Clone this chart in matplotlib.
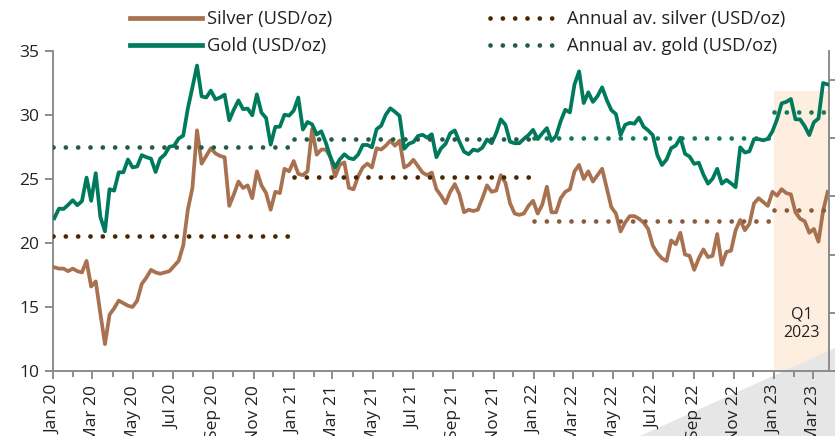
import pandas as pd
import matplotlib.pyplot as plt
import matplotlib.dates as mdates
from matplotlib.lines import Line2D
from matplotlib.patches import Polygon

plt.rcParams["font.family"] = ["Open Sans", "DejaVu Sans"]

# weekly closes (Fridays)
silver_2020 = [18.1, 18.0, 18.0, 17.8, 18.0,
               17.8, 17.7, 18.6, 16.6,
               17.0, 14.5, 12.1, 14.4,
               14.9, 15.5, 15.3, 15.1,
               15.0, 15.5, 16.8, 17.3, 17.9,
               17.7, 17.6, 17.7, 17.8,
               18.2, 18.6, 19.8, 22.6, 24.3,
               28.8, 26.2, 26.8, 27.4,
               27.0, 26.8, 26.7, 22.9,
               23.8, 24.8, 24.3, 24.5, 23.5,
               25.6, 24.5, 23.9, 22.6,
               24.0, 23.9, 25.8, 25.6]
silver_2021 = [26.4, 25.4, 25.3, 25.6, 28.9,
               26.9, 27.3, 27.3, 26.7,
               25.2, 26.1, 26.3, 24.3,
               24.2, 25.2, 25.9, 26.2, 25.9,
               27.4, 27.3, 27.6, 28.0,
               27.6, 28.0, 25.9, 26.1,
               26.5, 26.0, 25.5, 25.3, 25.5,
               24.2, 23.7, 23.1, 24.0,
               24.6, 23.8, 22.4, 22.6,
               22.5, 22.6, 23.5, 24.5, 24.0,
               24.1, 25.3, 24.7, 23.1,
               22.3, 22.2, 22.3, 22.9, 23.3]
silver_2022 = [22.3, 23.0, 24.4, 22.4,
               22.4, 23.5, 24.0, 24.2,
               25.6, 26.1, 25.0, 25.6,
               24.8, 25.3, 25.8, 24.3, 22.8,
               22.3, 20.9, 21.6, 22.1,
               22.1, 21.9, 21.6, 21.1,
               19.8, 19.2, 18.8, 18.6, 20.2,
               19.9, 20.8, 19.1, 19.0,
               17.9, 18.8, 19.5, 18.9, 19.0,
               20.7, 18.3, 19.3, 19.4,
               21.0, 21.8, 21.0, 21.5,
               23.1, 23.5, 23.2, 22.9, 24.0]
silver_2023 = [23.7, 24.2, 23.9, 23.8,
               22.4, 21.9, 21.7, 20.8,
               21.1, 20.1, 22.5, 24.0]

gold_2020 = [1525, 1558, 1557, 1571, 1587,
             1570, 1584, 1665, 1585,
             1680, 1530, 1480, 1625,
             1620, 1683, 1683, 1727,
             1700, 1703, 1742, 1735, 1730,
             1684, 1730, 1744, 1771,
             1774, 1799, 1809, 1902, 1975,
             2050, 1944, 1940, 1964,
             1934, 1940, 1950, 1862,
             1899, 1930, 1900, 1902, 1879,
             1951, 1888, 1870, 1778,
             1839, 1840, 1881, 1878]
gold_2021 = [1895, 1940, 1830, 1856, 1848,
             1813, 1824, 1784, 1734,
             1700, 1727, 1745, 1732,
             1728, 1744, 1777, 1777, 1769,
             1831, 1843, 1881, 1903,
             1891, 1877, 1764, 1781,
             1787, 1808, 1812, 1802, 1814,
             1735, 1765, 1781, 1817,
             1827, 1788, 1754, 1745,
             1761, 1757, 1768, 1796, 1783,
             1818, 1865, 1846, 1788,
             1783, 1783, 1798, 1811, 1829]
gold_2022 = [1797, 1817, 1835, 1791,
             1808, 1859, 1898, 1889,
             1985, 2030, 1921, 1958,
             1925, 1945, 1975, 1932, 1897,
             1883, 1811, 1846, 1853,
             1850, 1871, 1840, 1827,
             1811, 1742, 1708, 1727, 1766,
             1775, 1802, 1747, 1737,
             1712, 1716, 1675, 1644, 1661,
             1695, 1644, 1657, 1645,
             1632, 1769, 1751, 1755,
             1797, 1797, 1793, 1798, 1824]
gold_2023 = [1865, 1920, 1925, 1935,
             1865, 1865, 1842, 1811,
             1855, 1868, 1990, 1985]

years = ["2020", "2021", "2022", "2023"]
year_starts = ["2020-01-03", "2021-01-01", "2022-01-07", "2023-01-06"]
avg_silver = [20.55, 25.15, 21.75, 22.6]
avg_gold = [1770, 1799, 1800, 1890]

silver = pd.concat([
    pd.Series(v, index=pd.date_range(s, periods=len(v), freq="W-FRI"))
    for s, v in zip(year_starts, [silver_2020, silver_2021, silver_2022, silver_2023])
])
gold = pd.concat([
    pd.Series(v, index=pd.date_range(s, periods=len(v), freq="W-FRI"))
    for s, v in zip(year_starts, [gold_2020, gold_2021, gold_2022, gold_2023])
])

c_silver = "#a87150"
c_gold = "#007a5c"
dots_silver = ["#4a2600", "#4a2600", "#8c5a3c", "#8c5a3c"]
dots_gold = ["#245b46", "#245b46", "#127a5c", "#127a5c"]
dot_style = (0, (0.01, 2.6))
x_end = pd.Timestamp("2023-03-26")

fig = plt.figure(figsize=(8.35, 4.36), dpi=100)
ax = fig.add_axes([53 / 835, 65 / 436, 776 / 835, 320 / 436])
ax.set_facecolor("none")
ax2 = ax.twinx()

# Q1 2023 shading and decorative corner
ax.axvspan(pd.Timestamp("2023-01-01"), x_end, ymax=0.875, color="#fdeee0", zorder=0.5, lw=0)
tri = Polygon([(640 / 835, 0), (1, 88 / 436), (1, 0)], closed=True, transform=fig.transFigure,
              facecolor="#e6e6e6", edgecolor="none", clip_on=False, zorder=1.5)
ax.add_patch(tri)
ax.text(pd.Timestamp("2023-02-12"), 13.7, "Q1\n2023", ha="center", va="center",
        fontsize=11.5, color="#222222", linespacing=1.15)

ax.plot(silver.index, silver.values, color=c_silver, lw=2.7, zorder=3, solid_joinstyle="round")
ax2.plot(gold.index, gold.values, color=c_gold, lw=2.7, zorder=3, solid_joinstyle="round")

for i, y in enumerate(years):
    start = pd.Timestamp(f"{y}-01-01")
    end = min(pd.Timestamp(f"{int(y) + 1}-01-01"), x_end)
    ax.plot([start, end], [avg_silver[i]] * 2, color=dots_silver[i], lw=3.4,
            linestyle=dot_style, dash_capstyle="round", zorder=4)
    ax2.plot([start, end], [avg_gold[i]] * 2, color=dots_gold[i], lw=3.4,
             linestyle=dot_style, dash_capstyle="round", zorder=4)

ax.set_xlim(pd.Timestamp("2020-01-01"), x_end)
ax.set_ylim(10, 35)
ax.set_yticks([10, 15, 20, 25, 30, 35])
ax2.set_ylim(1000, 2100)
ax2.set_yticks([1000, 1200, 1400, 1600, 1800, 2000])

ax.xaxis.set_major_locator(mdates.MonthLocator(bymonth=[1, 3, 5, 7, 9, 11]))
ax.xaxis.set_minor_locator(mdates.MonthLocator())
ax.xaxis.set_major_formatter(mdates.DateFormatter("%b %y"))
plt.setp(ax.get_xticklabels(), rotation=90)

grey = "#8c8c8c"
for a in (ax, ax2):
    a.spines["top"].set_visible(False)
    for s in a.spines.values():
        s.set_color(grey)
        s.set_linewidth(1.4)
ax.spines["right"].set_visible(False)
ax2.spines["left"].set_visible(False)
ax2.spines["bottom"].set_visible(False)
ax.tick_params(axis="both", which="major", length=6, width=1.4, color=grey,
               labelsize=12.5, labelcolor="#222222", pad=4)
ax.tick_params(axis="x", which="minor", length=4, width=1.4, color=grey)
ax2.tick_params(axis="y", length=6, width=1.4, color=grey, labelright=False)

h_silver = Line2D([], [], color=c_silver, lw=3.4)
h_gold = Line2D([], [], color=c_gold, lw=3.4)
h_avs = Line2D([], [], color="#4a2600", lw=3.4, linestyle=dot_style, dash_capstyle="round")
h_avg = Line2D([], [], color="#245b46", lw=3.4, linestyle=dot_style, dash_capstyle="round")

leg_kw = dict(loc="upper left", frameon=False, fontsize=13.2, handlelength=3.9,
              handletextpad=0.3, borderpad=0, borderaxespad=0, labelspacing=0.5,
              labelcolor="#222222")
fig.legend([h_silver, h_gold], ["Silver (USD/oz)", "Gold (USD/oz)"],
           bbox_to_anchor=(130 / 835, 1 - 10 / 436), **leg_kw)
fig.legend([h_avs, h_avg], ["Annual av. silver (USD/oz)", "Annual av. gold (USD/oz)"],
           bbox_to_anchor=(490 / 835, 1 - 10 / 436), **leg_kw)

fig.savefig("out.png", dpi=100)
